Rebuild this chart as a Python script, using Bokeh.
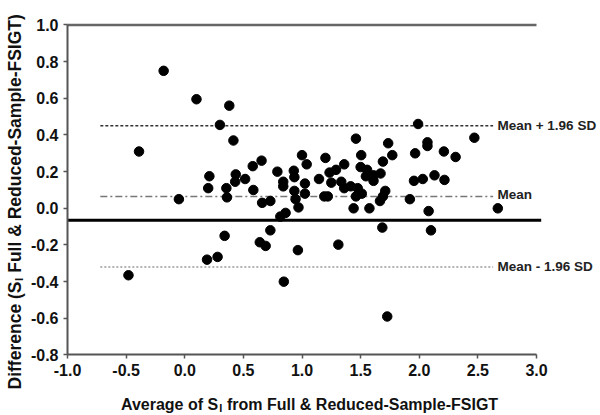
import math
from bokeh.plotting import figure
from bokeh.models import (Range1d, FixedTicker, NumeralTickFormatter, Label,
                          LinearAxis)
from bokeh.embed import file_html
from bokeh.resources import INLINE

# ---- data ----
avg_si = [-0.48, -0.39, -0.18, -0.05, 0.10, 0.19, 0.20, 0.21, 0.28, 0.30,
          0.34, 0.355, 0.36, 0.38, 0.415, 0.43, 0.435, 0.515, 0.58, 0.585,
          0.64, 0.655, 0.66, 0.69, 0.73, 0.73, 0.79, 0.815, 0.84, 0.84,
          0.845, 0.86, 0.93, 0.935, 0.935, 0.945, 0.965, 0.97, 1.00, 1.025,
          1.025, 1.04, 1.145, 1.19, 1.20, 1.22, 1.235, 1.25, 1.29, 1.31,
          1.335, 1.36, 1.36, 1.415, 1.44, 1.46, 1.46, 1.475, 1.50, 1.505,
          1.51, 1.545, 1.555, 1.575, 1.61, 1.61, 1.665, 1.67, 1.685, 1.69,
          1.69, 1.71, 1.727, 1.735, 1.77, 1.92, 1.955, 1.965, 1.99, 2.03,
          2.07, 2.07, 2.08, 2.10, 2.13, 2.21, 2.215, 2.31, 2.47, 2.67]
diff_si = [-0.365, 0.31, 0.75, 0.05, 0.595, -0.28, 0.11, 0.175, -0.265, 0.455,
           -0.15, 0.11, 0.06, 0.56, 0.37, 0.145, 0.185, 0.16, 0.23, 0.10,
           -0.185, 0.26, 0.03, -0.205, 0.04, -0.12, 0.20, -0.045, 0.145, 0.12,
           -0.40, -0.025, 0.205, 0.17, 0.095, 0.05, -0.228, 0.005, 0.29, 0.135,
           0.08, 0.24, 0.16, 0.065, 0.275, 0.065, 0.195, 0.14, 0.21, -0.198,
           0.145, 0.24, 0.11, 0.12, 0.0, 0.38, 0.065, 0.11, 0.225, 0.29,
           0.08, 0.175, 0.21, 0.0, 0.18, 0.15, 0.04, 0.19, -0.105, 0.255,
           0.065, 0.095, -0.59, 0.355, 0.29, 0.05, 0.15, 0.30, 0.46, 0.16,
           0.36, 0.34, -0.015, -0.12, 0.18, 0.31, 0.155, 0.28, 0.385, 0.0]

x_ticks = [-1.0, -0.5, 0.0, 0.5, 1.0, 1.5, 2.0, 2.5, 3.0]
y_ticks = [-0.8, -0.6, -0.4, -0.2, 0.0, 0.2, 0.4, 0.6, 0.8, 1.0]

mean_diff = 0.065
upper_loa = 0.45
lower_loa = -0.32
solid_ref = -0.065
top_ref = 1.0
ref_start = -0.72
ref_end = 2.63
label_x = 2.667
labels = ["Mean + 1.96 SD", "Mean", "Mean - 1.96 SD"]

FONT = "Liberation Sans"

p = figure(width=600, height=415, output_backend="svg", toolbar_location=None,
           title=None, x_axis_location=None, y_axis_location=None,
           x_range=Range1d(-1.5714, 3.5458), y_range=Range1d(-1.130, 1.1336),
           min_border=0, min_border_left=0, min_border_right=0,
           min_border_top=0, min_border_bottom=0)
p.grid.visible = False
p.outline_line_color = None
p.background_fill_color = "white"
p.border_fill_color = "white"

xaxis = LinearAxis(fixed_location=y_ticks[0])
yaxis = LinearAxis(fixed_location=x_ticks[0])
p.add_layout(xaxis, "below")
p.add_layout(yaxis, "left")

for ax in (xaxis, yaxis):
    ax.axis_line_color = "#555555"
    ax.axis_line_width = 2
    ax.major_tick_line_color = "#555555"
    ax.major_tick_line_width = 1.5
    ax.major_tick_in = 0
    ax.major_tick_out = 4
    ax.minor_tick_line_color = None
    ax.major_label_text_font = FONT
    ax.major_label_text_font_style = "bold"
    ax.major_label_text_font_size = "16px"
    ax.major_label_text_color = "#111111"
    ax.major_label_standoff = 5
    ax.formatter = NumeralTickFormatter(format="0.0")

xaxis.ticker = FixedTicker(ticks=x_ticks)
yaxis.ticker = FixedTicker(ticks=y_ticks)
xaxis.bounds = (x_ticks[0], x_ticks[-1])
yaxis.bounds = (y_ticks[0], y_ticks[-1])

# reference lines
p.segment(x0=[x_ticks[0]], y0=[top_ref], x1=[x_ticks[-1]], y1=[top_ref],
          line_color="#666666", line_width=2.5)
p.segment(x0=[x_ticks[0]], y0=[solid_ref], x1=[3.04], y1=[solid_ref],
          line_color="black", line_width=3)
p.segment(x0=[ref_start], y0=[upper_loa], x1=[ref_end], y1=[upper_loa],
          line_color="#333333", line_width=1.5, line_dash="3 2")
p.segment(x0=[ref_start], y0=[mean_diff], x1=[ref_end], y1=[mean_diff],
          line_color="#777777", line_width=1.5, line_dash="7 3 2 3")
p.segment(x0=[ref_start], y0=[lower_loa], x1=[ref_end], y1=[lower_loa],
          line_color="#999999", line_width=1.5, line_dash="2 2")

p.scatter(avg_si, diff_si, size=9.5, color="black")

for txt, yv in zip(labels, [upper_loa, mean_diff + 0.008, lower_loa]):
    p.add_layout(Label(x=label_x, y=yv, text=txt, text_font=FONT,
                       text_font_style="bold", text_font_size="13.5px",
                       text_color="#222222", text_baseline="middle",
                       text_align="left"))


def add_lbl(x, y, text, size, xo=0, yo=0, angle=0):
    p.add_layout(Label(x=x, y=y, text=text, text_font=FONT,
                       text_font_style="bold", text_font_size=size,
                       text_color="#111111", text_baseline="alphabetic",
                       text_align="left", x_offset=xo, y_offset=yo,
                       angle=angle))


# x-axis title (with subscript I)
xt_x, xt_y = -0.544, -1.07
add_lbl(xt_x, xt_y, "Average of S", "16px")
add_lbl(xt_x, xt_y, "I", "11px", xo=98.3, yo=-4)
add_lbl(xt_x, xt_y, "from Full & Reduced-Sample-FSIGT", "16px", xo=106.0)

# y-axis title (rotated, with subscript I)
yt_x, yt_y = -1.4435, -0.988
add_lbl(yt_x, yt_y, "Difference (S", "17.5px", angle=math.pi / 2)
add_lbl(yt_x, yt_y, "I", "11.5px", xo=4, yo=108.4, angle=math.pi / 2)
add_lbl(yt_x, yt_y, "Full & Reduced-Sample-FSIGT)", "17.5px", yo=116.7,
        angle=math.pi / 2)

open("out.html", "w").write(file_html(p, INLINE))
